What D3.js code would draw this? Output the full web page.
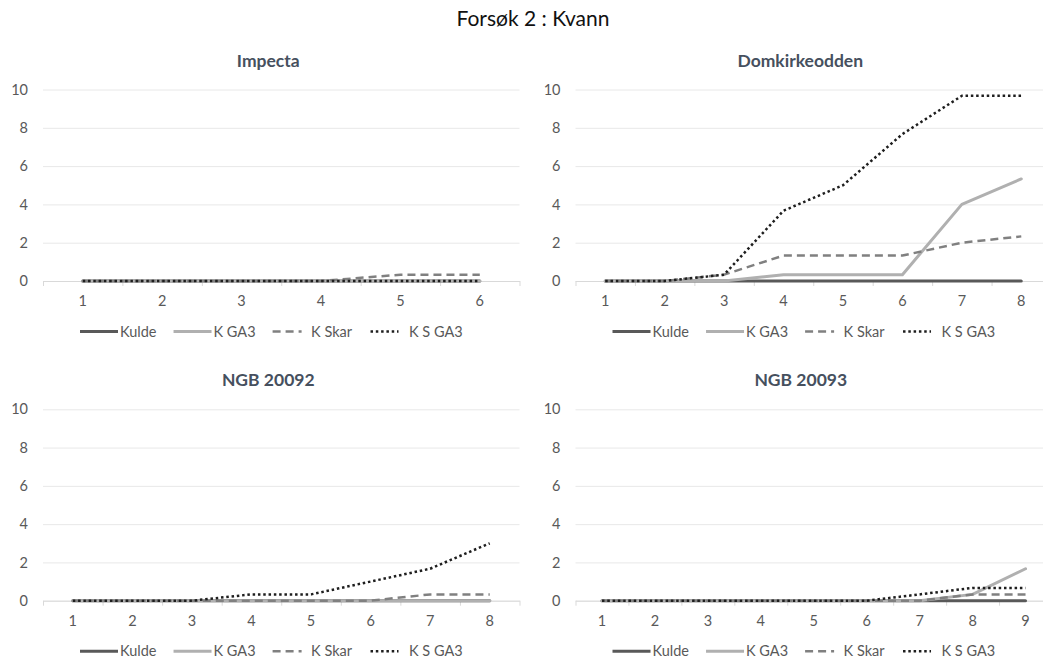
<!DOCTYPE html>
<html>
<head>
<meta charset="utf-8">
<script src="https://cdn.jsdelivr.net/npm/d3@7"></script>
<style>
  html, body { margin: 0; padding: 0; background: #fff; }
  svg { display: block; font-family: Lato, "Open Sans", sans-serif; }
</style>
</head>
<body>
<svg id="chart" width="1043" height="664"></svg>
<script>
// Series shared by every panel
const seriesNames = ["Kulde", "K GA3", "K Skar", "K S GA3"];
const yTicks = [0, 2, 4, 6, 8, 10];

// Impecta
const impectaDays   = [1, 2, 3, 4, 5, 6];
const impectaKulde  = [0, 0, 0, 0, 0, 0];
const impectaKGA3   = [0, 0, 0, 0, 0, 0];
const impectaKSkar  = [0, 0, 0, 0, 0.33, 0.33];
const impectaKSGA3  = [0, 0, 0, 0, 0, 0];

// Domkirkeodden
const domkirkeDays  = [1, 2, 3, 4, 5, 6, 7, 8];
const domkirkeKulde = [0, 0, 0, 0, 0, 0, 0, 0];
const domkirkeKGA3  = [0, 0, 0, 0.33, 0.33, 0.33, 4, 5.33];
const domkirkeKSkar = [0, 0, 0.33, 1.33, 1.33, 1.33, 2, 2.33];
const domkirkeKSGA3 = [0, 0, 0.33, 3.67, 5, 7.67, 9.67, 9.67];

// NGB 20092
const ngb20092Days  = [1, 2, 3, 4, 5, 6, 7, 8];
const ngb20092Kulde = [0, 0, 0, 0, 0, 0, 0, 0];
const ngb20092KGA3  = [0, 0, 0, 0, 0, 0, 0, 0];
const ngb20092KSkar = [0, 0, 0, 0, 0, 0, 0.33, 0.33];
const ngb20092KSGA3 = [0, 0, 0, 0.33, 0.33, 1, 1.67, 3];

// NGB 20093
const ngb20093Days  = [1, 2, 3, 4, 5, 6, 7, 8, 9];
const ngb20093Kulde = [0, 0, 0, 0, 0, 0, 0, 0, 0];
const ngb20093KGA3  = [0, 0, 0, 0, 0, 0, 0, 0.33, 1.67];
const ngb20093KSkar = [0, 0, 0, 0, 0, 0, 0, 0.33, 0.33];
const ngb20093KSGA3 = [0, 0, 0, 0, 0, 0, 0.33, 0.67, 0.67];

// Panel table assembled from the arrays above
const panels = [
  { title: "Impecta",       days: impectaDays,  values: [impectaKulde,  impectaKGA3,  impectaKSkar,  impectaKSGA3] },
  { title: "Domkirkeodden", days: domkirkeDays, values: [domkirkeKulde, domkirkeKGA3, domkirkeKSkar, domkirkeKSGA3] },
  { title: "NGB 20092",     days: ngb20092Days, values: [ngb20092Kulde, ngb20092KGA3, ngb20092KSkar, ngb20092KSGA3] },
  { title: "NGB 20093",     days: ngb20093Days, values: [ngb20093Kulde, ngb20093KGA3, ngb20093KSkar, ngb20093KSGA3] }
];

// Plot-area geometry for each panel
const frames = [
  { x0: 43,    x1: 519.5, yTop: 89.5,  yBot: 281   },
  { x0: 575.5, x1: 1051,  yTop: 89.5,  yBot: 281   },
  { x0: 43,    x1: 519.5, yTop: 409.3, yBot: 600.7 },
  { x0: 575.5, x1: 1052,  yTop: 409.3, yBot: 600.7 }
];

// Line styles per series (keyLen: visible length of the legend key)
const styles = [
  { stroke: "#595959", width: 3,   dash: null,      cap: "round", keyLen: 38 },
  { stroke: "#b0b0b0", width: 3,   dash: null,      cap: "round", keyLen: 38 },
  { stroke: "#808080", width: 2.5, dash: "8,5",     cap: "butt",  keyLen: 29 },
  { stroke: "#1e1e1e", width: 2.5, dash: "2.5,2.8", cap: "butt",  keyLen: 28 }
];

const svg = d3.select("#chart");

// Main title
svg.append("text")
  .attr("x", 533).attr("y", 26)
  .attr("text-anchor", "middle")
  .attr("font-size", 21)
  .attr("fill", "#111")
  .text("Forsøk 2 : Kvann");

panels.forEach((p, i) => {
  const f = frames[i];
  const g = svg.append("g");

  const x = d3.scaleBand().domain(p.days).range([f.x0, f.x1]);
  const xEdge = d3.scaleLinear().domain([0, p.days.length]).range([f.x0, f.x1]);
  const y = d3.scaleLinear().domain([0, 10]).range([f.yBot, f.yTop]);

  // Panel title
  g.append("text")
    .attr("x", (f.x0 + f.x1) / 2 - 13)
    .attr("y", f.yTop - 23)
    .attr("text-anchor", "middle")
    .attr("font-size", 17.5)
    .attr("font-weight", "bold")
    .attr("fill", "#46505e")
    .text(p.title);

  // Horizontal gridlines and value labels
  const yAxis = g.append("g")
    .attr("transform", `translate(${f.x0},0)`)
    .call(d3.axisLeft(y).tickValues(yTicks).tickSize(-(f.x1 - f.x0)).tickPadding(15));
  yAxis.select(".domain").remove();
  yAxis.selectAll(".tick line").attr("stroke", "#e8e8e8").attr("stroke-width", 1);
  yAxis.selectAll(".tick text")
    .attr("fill", "#595959").attr("font-size", 14.5).attr("font-family", "Lato, sans-serif");

  // Category axis line with ticks between categories
  const edgeAxis = g.append("g")
    .attr("transform", `translate(0,${y(0)})`)
    .call(d3.axisBottom(xEdge).tickValues(d3.range(0, p.days.length + 1))
      .tickSize(5).tickSizeOuter(0).tickFormat(""));
  edgeAxis.select(".domain").attr("stroke", "#d9d9d9");
  edgeAxis.selectAll(".tick line").attr("stroke", "#d9d9d9");

  // Category labels
  const labelAxis = g.append("g")
    .attr("transform", `translate(0,${y(0)})`)
    .call(d3.axisBottom(x).tickSize(0).tickPadding(15));
  labelAxis.select(".domain").remove();
  labelAxis.selectAll(".tick text")
    .attr("fill", "#595959").attr("font-size", 14.5).attr("font-family", "Lato, sans-serif");

  // Series lines
  const line = d3.line()
    .x((d, k) => x(p.days[k]) + x.bandwidth() / 2)
    .y(d => y(d));

  p.values.forEach((vals, s) => {
    const st = styles[s];
    g.append("path")
      .datum(vals)
      .attr("d", line)
      .attr("fill", "none")
      .attr("stroke", st.stroke)
      .attr("stroke-width", st.width)
      .attr("stroke-linecap", st.cap)
      .attr("stroke-linejoin", "round")
      .attr("stroke-dasharray", st.dash);
  });

  // Legend
  const legY = f.yBot + 50.5;
  let lx = f.x0 + 37;
  seriesNames.forEach((name, s) => {
    const st = styles[s];
    g.append("line")
      .attr("x1", lx).attr("x2", lx + st.keyLen)
      .attr("y1", legY).attr("y2", legY)
      .attr("stroke", st.stroke)
      .attr("stroke-width", st.width)
      .attr("stroke-dasharray", st.dash);
    const t = g.append("text")
      .attr("x", lx + (st.dash ? 38.5 : 40)).attr("y", legY)
      .attr("dy", "0.35em")
      .attr("font-size", 14.5)
      .attr("fill", "#595959")
      .text(name);
    lx += 40 + t.node().getComputedTextLength() + 17;
  });
});
</script>
</body>
</html>
